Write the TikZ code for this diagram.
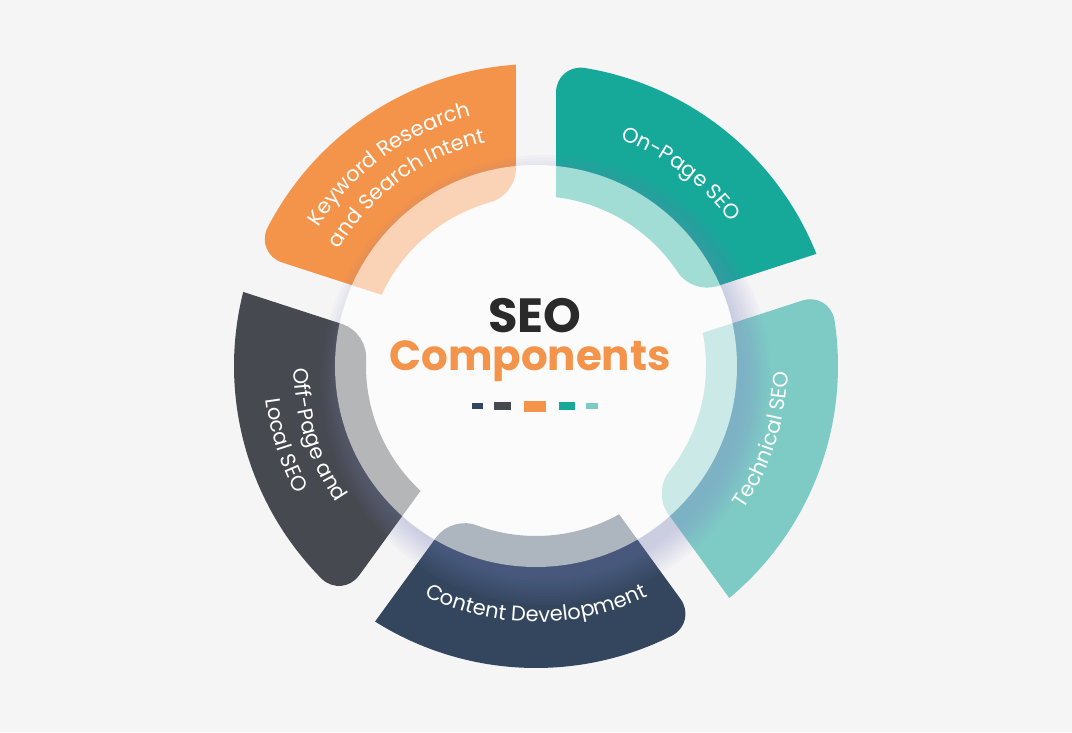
\documentclass[tikz,border=0pt]{standalone}
\usepackage{fontspec}
\setmainfont{Poppins}
\newfontfamily\lbl{Poppins}
\usetikzlibrary{calc,decorations.text}
\definecolor{bgc}{HTML}{F5F5F5}
\definecolor{kwc}{HTML}{F4934A}
\definecolor{opc}{HTML}{16A898}
\definecolor{tsc}{HTML}{7DCBC4}
\definecolor{cdc}{HTML}{33465E}
\definecolor{ofc}{HTML}{46494F}
\definecolor{titlec}{HTML}{2A2A2A}
\definecolor{shadowc}{RGB}{130,136,196}
\def\lf{\lbl\fontsize{21}{25}\selectfont\color{white}}
\tikzset{
  lbltext/.style={decorate, decoration={text along path, text align=center, text={#1}}},
  hub/.style={circle, minimum size=402pt, inner sep=0pt, fill=white, fill opacity=0.6},
  ttl/.style={anchor=base, inner sep=0pt, font=\bfseries\fontsize{#1}{#1}\selectfont}
}
\begin{document}
\begin{tikzpicture}[x=1pt,y=1pt]
\useasboundingbox (-536,-366) rectangle (536,366);
\fill[bgc] (-536,-366) rectangle (536,366);
% ring segments
\foreach \A/\col in {162/kwc, 90/opc, 18/tsc, -54/cdc, -126/ofc}{
  \pgfmathsetmacro\B{\A-72}
  \coordinate (poB) at ({\B+3.8}:302);
  \coordinate (poA) at ({\A-3.8}:302);
  \coordinate (piA) at ({\A-6.76}:170);
  \coordinate (piB) at ({\B+6.76}:170);
  \coordinate (a1) at ({\A-9.1}:302);
  \coordinate (a2) at ($(poA)!28pt!(piA)$);
  \coordinate (b1) at ({\B+16.16}:170);
  \coordinate (b2) at ($(piB)!28pt!(poB)$);
  \fill[\col] (poB) arc[start angle=\B+3.8, end angle=\A-9.1, radius=302]
    .. controls ($(a1)!0.55!(poA)$) and ($(a2)!0.55!(poA)$) .. (a2)
    -- (piA) arc[start angle=\A-6.76, end angle=\B+16.16, radius=170]
    .. controls ($(b1)!0.55!(piB)$) and ($(b2)!0.55!(piB)$) .. (b2)
    -- cycle;
}
% shadow of the hub, outside it only
\begin{scope}
  \clip (-540,370) -- (540,370) -- (540,-370) -- (-540,-370) -- cycle
        (201,0) arc[start angle=0, end angle=360, radius=201];
  \foreach \r in {198,201,...,226}{
    \fill[shadowc, opacity=0.04] (10,-14) circle (\r);
  }
\end{scope}
% hub
\node[hub] (hubc) at (0,0) {};
% labels
\path[lbltext={|\lf|Keyword Research}] (160:258) arc[start angle=160, end angle=92, radius=258];
\path[lbltext={|\lf|and Search Intent}] (160:229) arc[start angle=160, end angle=92, radius=229];
\path[lbltext={|\lf|On-Page SEO}] (93:242) arc[start angle=93, end angle=13, radius=242];
\path[lbltext={|\lf|Technical SEO}] (-58:252) arc[start angle=-58, end angle=22, radius=252];
\path[lbltext={|\lf|Content Development}] (-130:256) arc[start angle=-130, end angle=-50, radius=256];
\path[lbltext={|\lf|Off-Page and}] (157.5:242) arc[start angle=157.5, end angle=237.5, radius=242];
\path[lbltext={|\lf|Local SEO}] (157.5:272) arc[start angle=157.5, end angle=237.5, radius=272];
% title
\node[ttl=48, text=titlec] (seo) at (-1,34) {SEO};
\node[ttl=42, text=kwc] (comp) at (-6,-4) {Components};
% dashes
\fill[cdc] (-64,-43) rectangle (-53,-37);
\fill[ofc] (-42,-44) rectangle (-25,-36);
\fill[kwc] (-12,-46) rectangle (10,-35);
\fill[opc] (23,-44) rectangle (39,-36);
\fill[tsc] (50,-43) rectangle (62,-37);
\end{tikzpicture}
\end{document}
